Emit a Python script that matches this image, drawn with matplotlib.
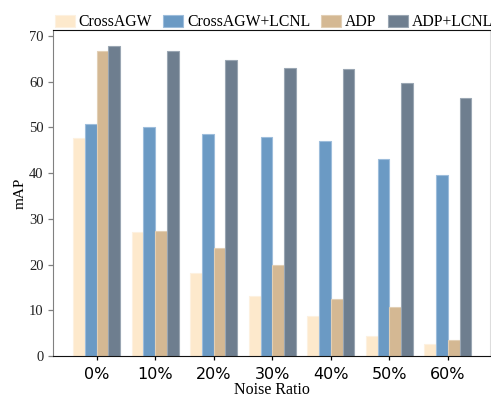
import numpy as np
import matplotlib
matplotlib.use('Agg')
import matplotlib.pyplot as plt

# Values
ratios = ['0%', '10%', '20%', '30%', '40%', '50%', '60%']
cross_agw = [47.6, 27.2, 18.1, 13.1, 8.7, 4.4, 2.7]
cross_agw_lcnl = [50.8, 50.0, 48.6, 47.9, 47.1, 43.2, 39.6]
adp = [66.8, 27.3, 23.6, 20.0, 12.5, 10.8, 3.5]
adp_lcnl = [67.8, 66.7, 64.7, 62.9, 62.7, 59.7, 56.4]

series = [
   ('CrossAGW', cross_agw, '#fde9cc', '#fdf1e0'),
   ('CrossAGW+LCNL', cross_agw_lcnl, '#6b9ac4', '#9dbddb'),
   ('ADP', adp, '#d4b893', '#e2cfb5'),
   ('ADP+LCNL', adp_lcnl, '#6e7e8f', '#9aa6b3'),
]

serif = ['Liberation Serif', 'DejaVu Serif']

fig = plt.figure(figsize=(4.91, 3.96), dpi=100)
ax = fig.add_axes([0.1086, 0.101, 0.8894, 0.823])

x = np.arange(len(ratios))
width = 0.2
for i, (name, vals, col, edge) in enumerate(series):
   ax.bar(x + (i - 1.5) * width, vals, width, color=col, edgecolor=edge,
          linewidth=0.8, label=name)

ax.set_xlim(-0.74, 6.72)
ax.set_ylim(0, 71.3)
ax.set_yticks(range(0, 71, 10))
ax.set_xticks(x)
ax.set_xticklabels(ratios, fontsize=11.5, family='DejaVu Sans')
for lbl in ax.get_yticklabels():
   lbl.set_family(serif)
   lbl.set_fontsize(10.5)
ax.tick_params(axis='y', colors='#808080', labelcolor='#222222', length=3.5, width=0.9)
ax.tick_params(axis='x', length=3, width=0.9, pad=5)

ax.spines['left'].set_color('#808080')
ax.spines['top'].set_color('#111111')
ax.spines['bottom'].set_color('#111111')
ax.spines['right'].set_color('#dddddd')

ax.set_ylabel('mAP', family=serif, fontsize=11, labelpad=2)
ax.set_xlabel('Noise Ratio', family=serif, fontsize=11.5, labelpad=0)

ax.legend(loc='lower left', bbox_to_anchor=(0.0, 0.995), ncol=4, frameon=False,
          prop={'family': serif, 'size': 11.3}, handlelength=1.27, handleheight=0.8,
          handletextpad=0.25, columnspacing=0.7, borderaxespad=0.1, borderpad=0.0)

fig.savefig('out.png', dpi=100)
